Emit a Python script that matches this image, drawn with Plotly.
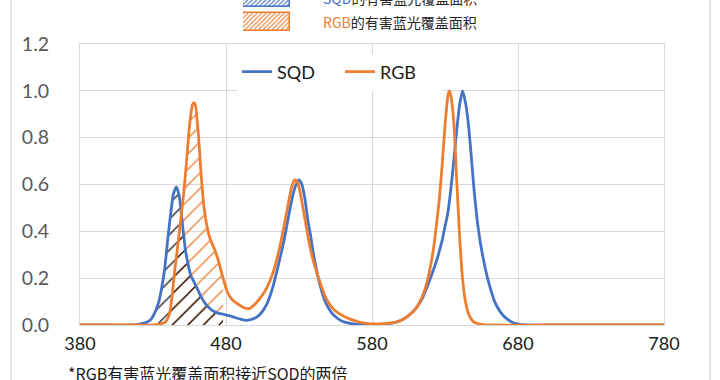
import plotly.graph_objects as go

# ---------------- data ----------------
sqd_nm = [380, 400, 415, 420, 425, 428, 431, 434, 436, 438, 440, 442, 444, 446, 448, 450,
          452, 454, 456, 458, 460, 463, 466, 470, 474, 478, 482, 486, 490, 494, 500, 504,
          508, 512, 516, 520, 523, 526, 528, 530, 532, 534, 536, 538, 540, 544, 548, 552,
          556, 560, 565, 570, 580, 590, 595, 600, 605, 610, 615, 620, 624, 628,
          630, 632, 634, 636, 638, 640, 642, 644, 646, 648, 650, 652, 654, 656, 658, 660,
          664, 668, 672, 676, 680, 685, 700, 740, 780]
sqd_val = [0, 0, 0.0, 0.003, 0.01, 0.02, 0.05, 0.10, 0.16, 0.24, 0.36, 0.47, 0.56, 0.59, 0.55, 0.44,
           0.33, 0.26, 0.21, 0.185, 0.16, 0.12, 0.09, 0.065, 0.052, 0.046, 0.04, 0.032, 0.025, 0.02, 0.03, 0.05,
           0.09, 0.16, 0.26, 0.37, 0.47, 0.56, 0.60, 0.62, 0.60, 0.54, 0.45, 0.38, 0.30, 0.18, 0.10, 0.055,
           0.03, 0.015, 0.007, 0.003, 0.001, 0.005, 0.01, 0.02, 0.04, 0.07, 0.12, 0.20, 0.27, 0.36,
           0.42, 0.48, 0.58, 0.70, 0.83, 0.94, 1.0, 0.95, 0.86, 0.72, 0.57, 0.45, 0.36, 0.29, 0.23, 0.18,
           0.10, 0.055, 0.028, 0.012, 0.004, 0.0, 0, 0, 0]

rgb_nm = [380, 420, 430, 435, 438, 441, 443, 445, 447, 449, 451, 453, 455, 457, 458, 459,
          461, 463, 465, 467, 469, 471, 473, 475, 478, 481, 484, 488, 492, 496, 500, 504,
          508, 512, 516, 520, 523, 525, 527, 529, 531, 533, 535, 537, 540, 544, 548, 552,
          556, 560, 565, 570, 575, 580, 585, 590, 595, 600, 605, 610, 615, 618, 620, 622,
          624, 626, 628, 630, 632, 633, 634, 636, 638, 640, 642, 644, 646, 648, 650, 655,
          660, 700, 740, 780]
rgb_val = [0, 0, 0.0, 0.005, 0.01, 0.04, 0.12, 0.24, 0.34, 0.45, 0.56, 0.70, 0.85, 0.94, 0.95, 0.94,
           0.82, 0.64, 0.50, 0.42, 0.37, 0.34, 0.31, 0.27, 0.20, 0.14, 0.11, 0.09, 0.075, 0.07, 0.09, 0.12,
           0.16, 0.22, 0.31, 0.43, 0.53, 0.59, 0.62, 0.61, 0.56, 0.49, 0.42, 0.35, 0.27, 0.19, 0.12, 0.08,
           0.055, 0.04, 0.025, 0.015, 0.008, 0.005, 0.005, 0.007, 0.01, 0.02, 0.04, 0.07, 0.13, 0.19, 0.25, 0.32,
           0.42, 0.53, 0.68, 0.85, 0.98, 1.0, 0.98, 0.87, 0.62, 0.38, 0.20, 0.10, 0.05, 0.025, 0.012, 0.003,
           0.0, 0, 0, 0]

hatch_end_nm = 478          # harmful blue-light band shaded up to here
x_ticks = [380, 480, 580, 680, 780]
y_ticks = [0.0, 0.2, 0.4, 0.6, 0.8, 1.0, 1.2]
series_names = ["SQD", "RGB"]
area_labels = ["SQD的有害蓝光覆盖面积", "RGB的有害蓝光覆盖面积"]
note_text = "*RGB有害蓝光覆盖面积接近SQD的两倍"

BLUE = "#4472C4"
ORANGE = "#ED7D31"
GRID = "#d9d9d9"
FONT = "Lato, 'Noto Sans CJK SC', sans-serif"
CJK = "'Noto Sans CJK SC', Lato, sans-serif"

W, H = 720, 380
ML, MR, MB = 80, 56, 55
PLOT_TOP = 44
paper_h = H - MB
paper_w = W - ML - MR


def px_x(px):
    return (px - ML) / paper_w


def px_y(py):
    return (paper_h - py) / paper_h


fig = go.Figure()

# hatched harmful-blue areas
rgb_h = [(x, y) for x, y in zip(rgb_nm, rgb_val) if x <= hatch_end_nm]
sqd_h = [(x, y) for x, y in zip(sqd_nm, sqd_val) if x <= hatch_end_nm]
fig.add_trace(go.Scatter(
    x=[p[0] for p in rgb_h], y=[p[1] for p in rgb_h], mode="lines",
    line=dict(width=0, shape="spline", smoothing=0.6), fill="tozeroy",
    fillcolor="rgba(0,0,0,0)",
    fillpattern=dict(shape="/", fgcolor=ORANGE, bgcolor="rgba(0,0,0,0)", size=11,
                     solidity=0.12, fgopacity=1),
    showlegend=False, hoverinfo="skip"))
fig.add_trace(go.Scatter(
    x=[p[0] for p in sqd_h], y=[p[1] for p in sqd_h], mode="lines",
    line=dict(width=0, shape="spline", smoothing=0.6), fill="tozeroy",
    fillcolor="rgba(0,0,0,0)",
    fillpattern=dict(shape="/", fgcolor="#111111", bgcolor="rgba(0,0,0,0)", size=11,
                     solidity=0.11, fgopacity=1),
    showlegend=False, hoverinfo="skip"))

# spectra
fig.add_trace(go.Scatter(x=sqd_nm, y=sqd_val, mode="lines", name=series_names[0],
                         line=dict(color=BLUE, width=2.8, shape="spline", smoothing=0.6)))
fig.add_trace(go.Scatter(x=rgb_nm, y=rgb_val, mode="lines", name=series_names[1],
                         line=dict(color=ORANGE, width=2.8, shape="spline", smoothing=0.6)))

# swatches of the area legend (top)
slot_pos = [1, 0]
for pos, col in zip(slot_pos, [BLUE, ORANGE]):
    fig.add_trace(go.Bar(
        x=[1], y=[pos], base=0, orientation="h", width=0.75,
        marker=dict(color="white", line=dict(color=col, width=1.5),
                    pattern=dict(shape="/", fgcolor=col, bgcolor="white", size=3.2,
                                 solidity=0.35, fgopacity=1)),
        xaxis="x2", yaxis="y2", showlegend=False, hoverinfo="skip"))

fig.update_layout(
    width=W, height=H,
    margin=dict(l=ML, r=MR, t=0, b=MB, autoexpand=False),
    paper_bgcolor="white", plot_bgcolor="white",
    font=dict(family=FONT, size=18, color="#404040"),
    xaxis=dict(range=[380, 780], tickvals=x_ticks, ticktext=[str(v) for v in x_ticks],
               showgrid=True, gridcolor=GRID, gridwidth=1, zeroline=False,
               showline=True, linecolor=GRID, mirror=True, ticks="",
               tickfont=dict(color="#1a1a1a", size=18), ticklabelstandoff=2, anchor="y",
               automargin=False),
    yaxis=dict(range=[0, 1.2], tickvals=y_ticks, ticktext=[f"{v:.1f}" for v in y_ticks],
               domain=[0, px_y(PLOT_TOP)], showgrid=True, gridcolor=GRID, gridwidth=1,
               zeroline=False, showline=True, linecolor=GRID, mirror=True, ticks="",
               tickfont=dict(color="#595959", size=19.5), ticklabelstandoff=26, anchor="x",
               automargin=False),
    xaxis2=dict(domain=[px_x(243), px_x(290)], range=[0, 1], visible=False, anchor="y2",
                fixedrange=True),
    yaxis2=dict(domain=[px_y(36), 1], range=[-0.583, 0.917], visible=False, anchor="x2",
                fixedrange=True),
    legend=dict(orientation="h", x=px_x(237), y=px_y(72), xanchor="left", yanchor="middle",
                bgcolor="white", font=dict(size=18, color="#1a1a1a", family=FONT),
                itemwidth=30, entrywidth=58, tracegroupgap=0),
    showlegend=True,
    bargap=0,
)

fig.add_annotation(xref="paper", yref="paper", x=px_x(321), y=px_y(-2), xanchor="left",
                   yanchor="middle", showarrow=False,
                   text=f"<span style='color:{BLUE}'>SQD</span>" + area_labels[0][3:],
                   font=dict(family=CJK, size=14, color="#262626"))
fig.add_annotation(xref="paper", yref="paper", x=px_x(321), y=px_y(22), xanchor="left",
                   yanchor="middle", showarrow=False,
                   text=f"<span style='color:{ORANGE}'>RGB</span>" + area_labels[1][3:],
                   font=dict(family=CJK, size=14, color="#262626"))
fig.add_annotation(xref="paper", yref="paper", x=px_x(66), y=px_y(373), xanchor="left",
                   yanchor="middle", showarrow=False, text=note_text,
                   font=dict(family=CJK, size=16, color="#1a1a1a"))

# outer frame edges of the source chart
for bx in (11, 710):
    fig.add_shape(type="line", xref="paper", yref="paper", x0=px_x(bx), x1=px_x(bx),
                  y0=px_y(H), y1=1, line=dict(color=GRID, width=1.5))

fig.write_html("out.html")
